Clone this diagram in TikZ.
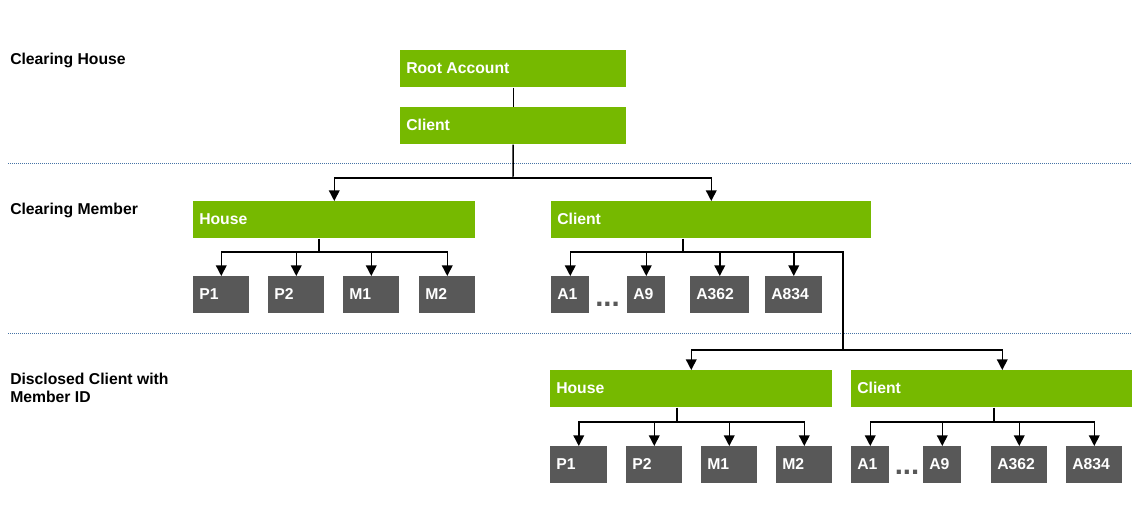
\documentclass[tikz,border=0pt]{standalone}
\usepackage{fontspec}
\setmainfont{Liberation Sans}
\usepackage{tikz}
\usetikzlibrary{arrows.meta}

\definecolor{levelgreen}{RGB}{118,185,0}
\definecolor{acctgray}{RGB}{88,88,88}
\definecolor{sepblue}{RGB}{70,115,165}
\newlength\pxl
\setlength\pxl{0.75pt}

\tikzset{
	lvl/.style={fill=levelgreen, anchor=north west, inner sep=0pt, minimum height=37\pxl, minimum width=#1\pxl},
	acct/.style={fill=acctgray, anchor=north west, inner sep=0pt, minimum height=37\pxl, minimum width=#1\pxl},
	tag/.style={anchor=west, text=white, inner ysep=0pt, inner xsep=6\pxl, yshift=1\pxl},
	lane/.style={anchor=base west, inner sep=0pt, text=black},
	gap/.style={anchor=base, inner sep=0pt, text=acctgray, font=\fontsize{22}{22}\selectfont\bfseries},
	sep/.style={draw=sepblue, line width=.75pt, dash pattern=on .75pt off .75pt},
	link/.style={line width=1.1pt},
	arr/.style={link, -{Triangle[length=8pt,width=8pt]}}
}

\begin{document}
\begin{tikzpicture}[x=.75pt, y=-.75pt, font=\fontsize{11.8}{13.5}\selectfont\bfseries]
	\useasboundingbox (0,0) rectangle (1132,518);

	% levels
	\node[lane] (lch) at (10,64.5) {Clearing House};
	\node[lane] (lcm) at (10,214) {Clearing Member};
	\node[lane, anchor=north west, align=left] (ldc) at (10,373) {Disclosed Client with\\Member ID};

	\draw[sep] (8,163) -- (1132,163);
	\draw[sep] (8,333) -- (1132,333);

	% clearing house
	\node[lvl=226, label={[tag]west:Root Account}] (root) at (400,50) {};
	\node[lvl=226, label={[tag]west:Client}] (chc) at (400,107) {};

	% clearing member
	\node[lvl=282, label={[tag]west:House}] (cmh) at (193,201) {};
	\node[lvl=320, label={[tag]west:Client}] (cmc) at (551,201) {};

	\node[acct=56, label={[tag]west:P1}] (cmp1) at (193,276) {};
	\node[acct=56, label={[tag]west:P2}] (cmp2) at (268,276) {};
	\node[acct=56, label={[tag]west:M1}] (cmm1) at (343,276) {};
	\node[acct=56, label={[tag]west:M2}] (cmm2) at (419,276) {};

	\node[acct=38, label={[tag]west:A1}] (cma1) at (551,276) {};
	\node[gap] (cmdots) at (607.5,306) {...};
	\node[acct=38, label={[tag]west:A9}] (cma9) at (627,276) {};
	\node[acct=59, label={[tag]west:A362}] (cma362) at (690,276) {};
	\node[acct=57, label={[tag]west:A834}] (cma834) at (765,276) {};

	% disclosed client
	\node[lvl=282, label={[tag]west:House}] (dch) at (550,370) {};
	\node[lvl=302, label={[tag]west:Client}] (dcc) at (851,370) {};

	\node[acct=57, label={[tag]west:P1}] (dcp1) at (550,446) {};
	\node[acct=56, label={[tag]west:P2}] (dcp2) at (626,446) {};
	\node[acct=56, label={[tag]west:M1}] (dcm1) at (701,446) {};
	\node[acct=56, label={[tag]west:M2}] (dcm2) at (776,446) {};

	\node[acct=38, label={[tag]west:A1}] (dca1) at (851,446) {};
	\node[gap] (dcdots) at (907,474) {...};
	\node[acct=38, label={[tag]west:A9}] (dca9) at (923,446) {};
	\node[acct=56, label={[tag]west:A362}] (dca362) at (991,446) {};
	\node[acct=56, label={[tag]west:A834}] (dca834) at (1066,446) {};

	% connectors
	\coordinate (j0) at (513,178);
	\draw[link] (root) -- (chc);
	\draw[link] (chc) -- (j0);
	\draw[arr] (j0) -| (cmh);
	\draw[arr] (j0) -| (cmc);

	\coordinate (j1) at (319,252);
	\draw[link] (j1 |- cmh.south) -- (j1);
	\foreach \n in {cmp1,cmp2,cmm1,cmm2}
		\draw[arr] (j1) -| (\n);

	\coordinate (j2) at (683,252);
	\coordinate (j3) at (843,350);
	\draw[link] (j2 |- cmc.south) -- (j2);
	\foreach \n in {cma1,cma9,cma362,cma834}
		\draw[arr] (j2) -| (\n);
	\draw[link] (j2) -| (j3);
	\draw[arr] (j3) -| (dch);
	\draw[arr] (j3) -| (dcc);

	\coordinate (j4) at (677,422);
	\draw[link] (j4 |- dch.south) -- (j4);
	\foreach \n in {dcp1,dcp2,dcm1,dcm2}
		\draw[arr] (j4) -| (\n);

	\coordinate (j5) at (994,422);
	\draw[link] (j5 |- dcc.south) -- (j5);
	\foreach \n in {dca1,dca9,dca362,dca834}
		\draw[arr] (j5) -| (\n);

\end{tikzpicture}
\end{document}
